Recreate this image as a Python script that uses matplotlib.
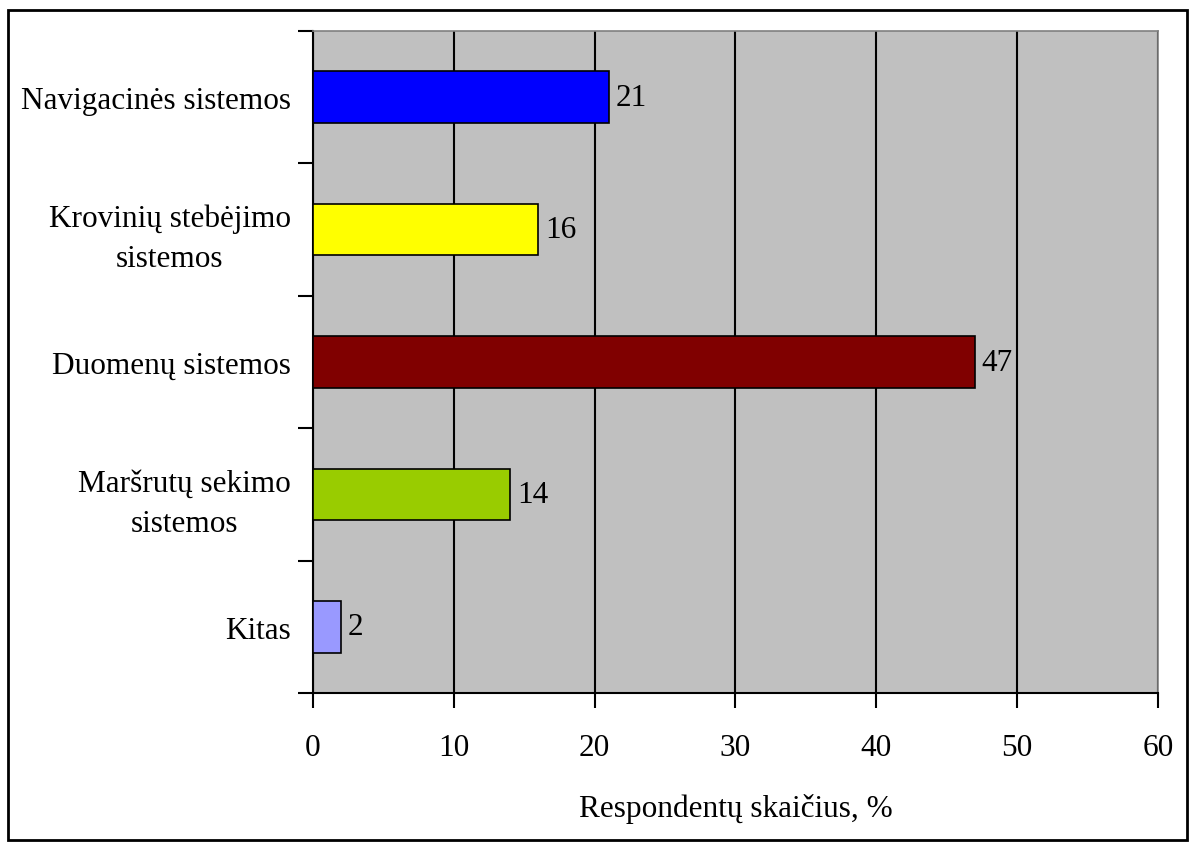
import matplotlib.pyplot as plt
import numpy as np
from matplotlib.patches import Rectangle

plt.rcParams['font.family'] = ['Liberation Serif', 'DejaVu Serif']

categories = ["Navigacinės sistemos", "Krovinių stebėjimo\nsistemos", "Duomenų sistemos",
              "Maršrutų sekimo\nsistemos", "Kitas"]
values = [21, 16, 47, 14, 2]
colors = ["#0000FF", "#FFFF00", "#800000", "#99CC00", "#9999FF"]
xticks = [0, 10, 20, 30, 40, 50, 60]

fs = 22.5

fig = plt.figure(figsize=(11.95, 8.45), dpi=100)
ax = fig.add_axes([0.2619, 0.1787, 0.7071, 0.7834])
ax.set_facecolor("#C0C0C0")

y = np.arange(len(categories))
bars = ax.barh(y, values, height=0.39, color=colors, edgecolor="black", linewidth=1.2, zorder=3)
ax.bar_label(bars, labels=[str(v) for v in values], padding=5, fontsize=fs, zorder=4)

ax.set_xlim(0, 60)
ax.set_ylim(len(categories) - 0.5, -0.5)
ax.set_xticks(xticks)
ax.tick_params(axis="x", labelsize=fs, length=11, width=1.5, pad=18, direction="out")

# category boundaries get the tick marks, centres get the labels
ax.set_yticks(np.arange(-0.5, len(categories), 1.0))
ax.set_yticklabels([])
ax.set_yticks(y, minor=True)
ax.set_yticklabels(categories, minor=True, fontsize=fs, multialignment="center",
                   linespacing=1.5)
ax.tick_params(axis="y", which="major", length=11, width=1.5, direction="out")
ax.tick_params(axis="y", which="minor", length=0, pad=16)

ax.grid(axis="x", color="black", linewidth=1.5, zorder=1)
ax.set_axisbelow(True)

for side in ("left", "bottom"):
    ax.spines[side].set_color("black")
    ax.spines[side].set_linewidth(1.5)
for side in ("top", "right"):
    ax.spines[side].set_color("#808080")
    ax.spines[side].set_linewidth(1.2)

ax.set_xlabel("Respondentų skaičius, %", fontsize=fs, labelpad=22)

# outer frame around the whole chart
fig.patches.append(Rectangle((8 / 1195, 4 / 845), 1179 / 1195, 830 / 845,
                             transform=fig.transFigure, fill=False,
                             edgecolor="black", linewidth=2))

fig.savefig("out.png", dpi=100)
